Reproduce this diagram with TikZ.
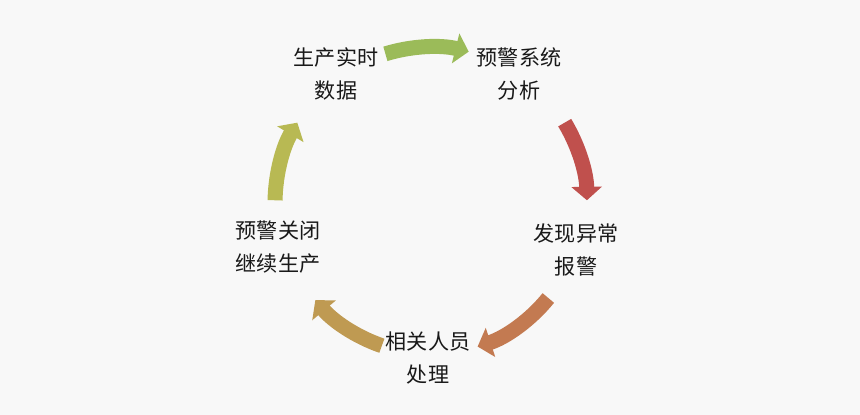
\documentclass[tikz,border=0pt]{standalone}
\usepackage{fontspec}
\newfontfamily\cjk{Noto Sans CJK SC}
\usetikzlibrary{arrows.meta}

\definecolor{bgGray}{HTML}{F8F8F8}
\definecolor{stepGreen}{HTML}{9BBB59}
\definecolor{stepRed}{HTML}{C0504D}
\definecolor{stepOrange}{HTML}{C37A51}
\definecolor{stepGold}{HTML}{BF9A52}
\definecolor{stepOlive}{HTML}{B8B953}

\begin{document}
\begin{tikzpicture}[
    x=0.02cm, y=0.02cm,
    label/.style={align=center, inner sep=0pt, text=black!90, font=\cjk\fontsize{12}{18.4}\selectfont},
    cyclearrow/.style={line width=0.3cm, -{Triangle[width=0.6cm, length=0.27cm]}}
]

    % Background
    \fill[bgGray] (0,0) rectangle (860,415);
    \useasboundingbox (0,0) rectangle (860,415);

    % Centre of the cycle
    \coordinate (c) at (431,212);

    % Stages
    \node[label] (data) at (336,341) {生产实时\\数据};
    \node[label] (analyse) at (519,341) {预警系统\\分析};
    \node[label] (alarm) at (576,165) {发现异常\\报警};
    \node[label] (handle) at (428,57) {相关人员\\处理};
    \node[label] (close) at (278,168) {预警关闭\\继续生产};

    % Arrows round the cycle
    \draw[cyclearrow, stepGreen] ([shift={(107:3.12cm)}]c) arc[start angle=107, end angle=76, radius=3.12cm];
    \draw[cyclearrow, stepRed] ([shift={(31:3.12cm)}]c) arc[start angle=31, end angle=1, radius=3.12cm];
    \draw[cyclearrow, stepOrange] ([shift={(-39:3.02cm)}]c) arc[start angle=-39, end angle=-72, radius=3.02cm];
    \draw[cyclearrow, stepGold] ([shift={(-109:3.02cm)}]c) arc[start angle=-109, end angle=-140, radius=3.02cm];
    \draw[cyclearrow, stepOlive] ([shift={(179:3.12cm)}]c) arc[start angle=179, end angle=149, radius=3.12cm];

\end{tikzpicture}
\end{document}
